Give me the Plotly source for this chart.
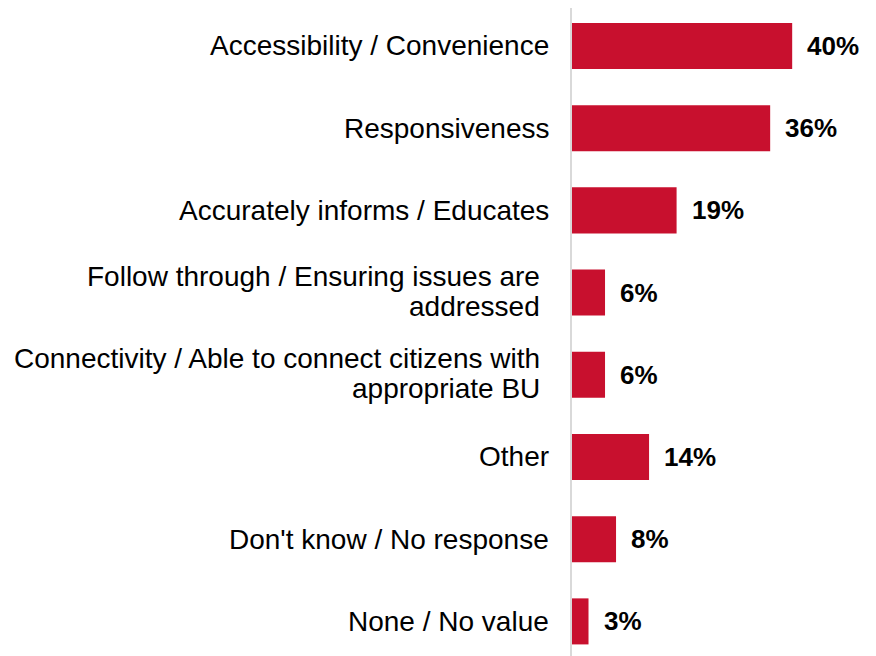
import plotly.graph_objects as go

categories = [
    "Accessibility / Convenience",
    "Responsiveness",
    "Accurately informs / Educates",
    "Follow through / Ensuring issues are<br>addressed",
    "Connectivity / Able to connect citizens with<br>appropriate BU",
    "Other",
    "Don't know / No response",
    "None / No value",
]
values = [40, 36, 19, 6, 6, 14, 8, 3]
value_labels = [f"{v}%" for v in values]

RED = "#C8102E"
FONT = "Arial, Liberation Sans, sans-serif"
CAT_FS = 28
VAL_FS = 26

fig = go.Figure()
fig.add_trace(go.Bar(
    x=values,
    y=categories,
    orientation="h",
    marker=dict(color=RED, line=dict(width=0)),
    hoverinfo="skip",
))

annotations = []
for cat, v, lab in zip(categories, values, value_labels):
    annotations.append(dict(
        x=v, y=cat, xref="x", yref="y", text=f"<b>{lab}</b>",
        showarrow=False, xanchor="left", yanchor="middle", xshift=13,
        font=dict(family=FONT, size=VAL_FS, color="#000000"),
    ))
    lines = cat.split("<br>")
    if len(lines) == 1:
        annotations.append(dict(
            x=0, y=cat, xref="x", yref="y", text=lines[0],
            showarrow=False, xanchor="right", yanchor="middle", xshift=-21,
            font=dict(family=FONT, size=CAT_FS, color="#000000"),
        ))
    else:
        shifts = [16, -14]
        for ln, ys in zip(lines, shifts):
            annotations.append(dict(
                x=0, y=cat, xref="x", yref="y", text=ln,
                showarrow=False, xanchor="right", yanchor="middle", xshift=-30,
                yshift=ys,
                font=dict(family=FONT, size=CAT_FS, color="#000000"),
            ))

fig.update_layout(
    width=868, height=648,
    margin=dict(l=564, r=4, t=0, b=0),
    paper_bgcolor="white", plot_bgcolor="white",
    showlegend=False,
    bargap=0.44,
    annotations=annotations,
    font=dict(family=FONT, size=CAT_FS, color="#000000"),
    xaxis=dict(range=[0, 54.5], visible=False, fixedrange=True),
    yaxis=dict(
        categoryorder="array", categoryarray=categories,
        range=[7.421, -0.462], autorange=False,
        showticklabels=False, showgrid=False, zeroline=False,
        showline=True, linecolor="#D9D9D9", linewidth=2, ticks="",
    ),
)

fig.write_html("out.html")
